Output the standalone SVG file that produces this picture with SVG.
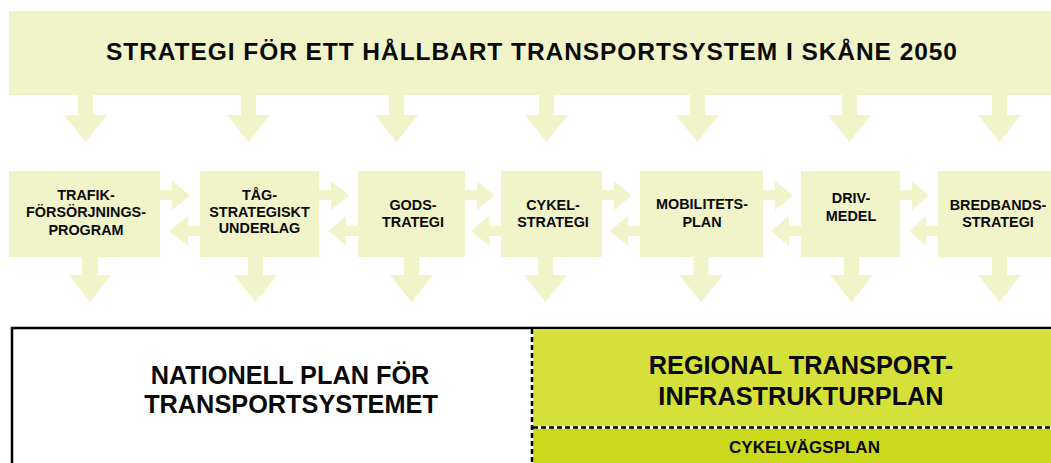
<svg xmlns="http://www.w3.org/2000/svg" width="1051" height="463" viewBox="0 0 1051 463">
<style>
.lt{fill:#f0f4c8}
.t{font-family:"Liberation Sans",Arial,sans-serif;font-weight:bold;fill:#0a0a0a;text-anchor:middle}
.s{font-size:14.4px}
.b{font-size:25.3px}
</style>
<rect x="0" y="0" width="1051" height="463" fill="#ffffff"/>
<g id="connectors" class="lt">
<!-- top arrows -->
<polygon points="78,94 93,94 93,115 107,115 85.5,142 64,115 78,115"/>
<polygon points="241,94 256,94 256,115 270,115 248.5,142 227,115 241,115"/>
<polygon points="389,94 404,94 404,115 418,115 396.5,142 375,115 389,115"/>
<polygon points="539,94 554,94 554,115 568,115 546.5,142 525,115 539,115"/>
<polygon points="690,94 705,94 705,115 719,115 697.5,142 676,115 690,115"/>
<polygon points="842,94 857,94 857,115 871,115 849.5,142 828,115 842,115"/>
<polygon points="992,94 1007,94 1007,115 1021,115 999.5,142 978,115 992,115"/>
<!-- right arrows -->
<polygon points="159,190 172,190 172,181 190,195.5 172,210 172,200 159,200"/>
<polygon points="318,190 331,190 331,181 349,195.5 331,210 331,200 318,200"/>
<polygon points="464,190 477,190 477,181 494.5,195.5 477,210 477,200 464,200"/>
<polygon points="601,190 614,190 614,181 631.5,195.5 614,210 614,200 601,200"/>
<polygon points="762,190 775,190 775,181 793,195.5 775,210 775,200 762,200"/>
<polygon points="899,190 912,190 912,181 929,195.5 912,210 912,200 899,200"/>
<!-- left arrows -->
<polygon points="201,226 188,226 188,216 169,231 188,246 188,236 201,236"/>
<polygon points="359,226 346,226 346,216 328.5,231 346,246 346,236 359,236"/>
<polygon points="502,226 489,226 489,216 471,231 489,246 489,236 502,236"/>
<polygon points="641,226 628,226 628,216 609.5,231 628,246 628,236 641,236"/>
<polygon points="802,226 789,226 789,216 771,231 789,246 789,236 802,236"/>
<polygon points="939,226 926,226 926,216 910,231 926,246 926,236 939,236"/>
<!-- bottom arrows -->
<polygon points="82,256 98,256 98,275 111,275 90,302 69,275 82,275"/>
<polygon points="248,256 263,256 263,275 277,275 255.5,302 234,275 248,275"/>
<polygon points="404,256 419,256 419,275 433,275 411.5,302 390,275 404,275"/>
<polygon points="538,256 553,256 553,275 567,275 545.5,302 524,275 538,275"/>
<polygon points="693.5,256 708.5,256 708.5,275 723,275 701,302 679,275 693.5,275"/>
<polygon points="844,256 859,256 859,275 873,275 851.5,302 830,275 844,275"/>
<polygon points="992,256 1007,256 1007,275 1021,275 999.5,302 978,275 992,275"/>
</g>
<g id="strategi">
<rect class="lt" x="9" y="11" width="1042" height="84"/>
<text class="t" x="531.5" y="59.5" font-size="24.5" textLength="851" lengthAdjust="spacing">STRATEGI FÖR ETT HÅLLBART TRANSPORTSYSTEM I SKÅNE 2050</text>
</g>
<g id="trafik">
<rect class="lt" x="9" y="171" width="151" height="86"/>
<text class="t s" x="86" y="199.5">TRAFIK-</text>
<text class="t s" x="86" y="217">FÖRSÖRJNINGS-</text>
<text class="t s" x="86" y="234.5">PROGRAM</text>
</g>
<g id="tag">
<rect class="lt" x="200" y="171" width="119" height="86"/>
<text class="t s" x="259.5" y="199.5">TÅG-</text>
<text class="t s" x="259.5" y="216.5">STRATEGISKT</text>
<text class="t s" x="259.5" y="233">UNDERLAG</text>
</g>
<g id="gods">
<rect class="lt" x="358" y="171" width="107" height="86"/>
<text class="t s" x="413" y="210">GODS-</text>
<text class="t s" x="413" y="226.5">TRATEGI</text>
</g>
<g id="cykel">
<rect class="lt" x="501" y="171" width="101" height="86"/>
<text class="t s" x="553" y="209.5">CYKEL-</text>
<text class="t s" x="553" y="226.5">STRATEGI</text>
</g>
<g id="mobilitet">
<rect class="lt" x="640" y="171" width="123" height="86"/>
<text class="t s" x="702" y="209">MOBILITETS-</text>
<text class="t s" x="702" y="226.5">PLAN</text>
</g>
<g id="driv">
<rect class="lt" x="801" y="171" width="99" height="86"/>
<text class="t s" x="851" y="203">DRIV-</text>
<text class="t s" x="851" y="220.5">MEDEL</text>
</g>
<g id="bredband">
<rect class="lt" x="938" y="171" width="113" height="86"/>
<text class="t s" x="998" y="209.5">BREDBANDS-</text>
<text class="t s" x="998" y="226.5">STRATEGI</text>
</g>
<g id="nationell">
<path d="M12,463 V328 H1051" fill="none" stroke="#000" stroke-width="2.5"/>
<text class="t b" x="290" y="383.5">NATIONELL PLAN FÖR</text>
<text class="t b" x="291" y="413">TRANSPORTSYSTEMET</text>
</g>
<g id="regional">
<rect x="533" y="329.2" width="518" height="98.5" fill="#d5e03b"/>
<text class="t b" x="801" y="374">REGIONAL TRANSPORT-</text>
<text class="t b" x="801" y="405">INFRASTRUKTURPLAN</text>
</g>
<g id="cykelvag">
<rect x="533" y="428" width="518" height="35" fill="#cad91c"/>
<text class="t" x="804.5" y="453" font-size="17">CYKELVÄGSPLAN</text>
</g>
<g id="dividers" fill="none">
<path d="M532,329 V463 M533,427.5 H1051" stroke="#ffffff" stroke-width="2.5"/>
<path d="M532,329 V463 M533,427.5 H1051" stroke="#000" stroke-width="2.5" stroke-dasharray="5 3"/>
</g>
</svg>
